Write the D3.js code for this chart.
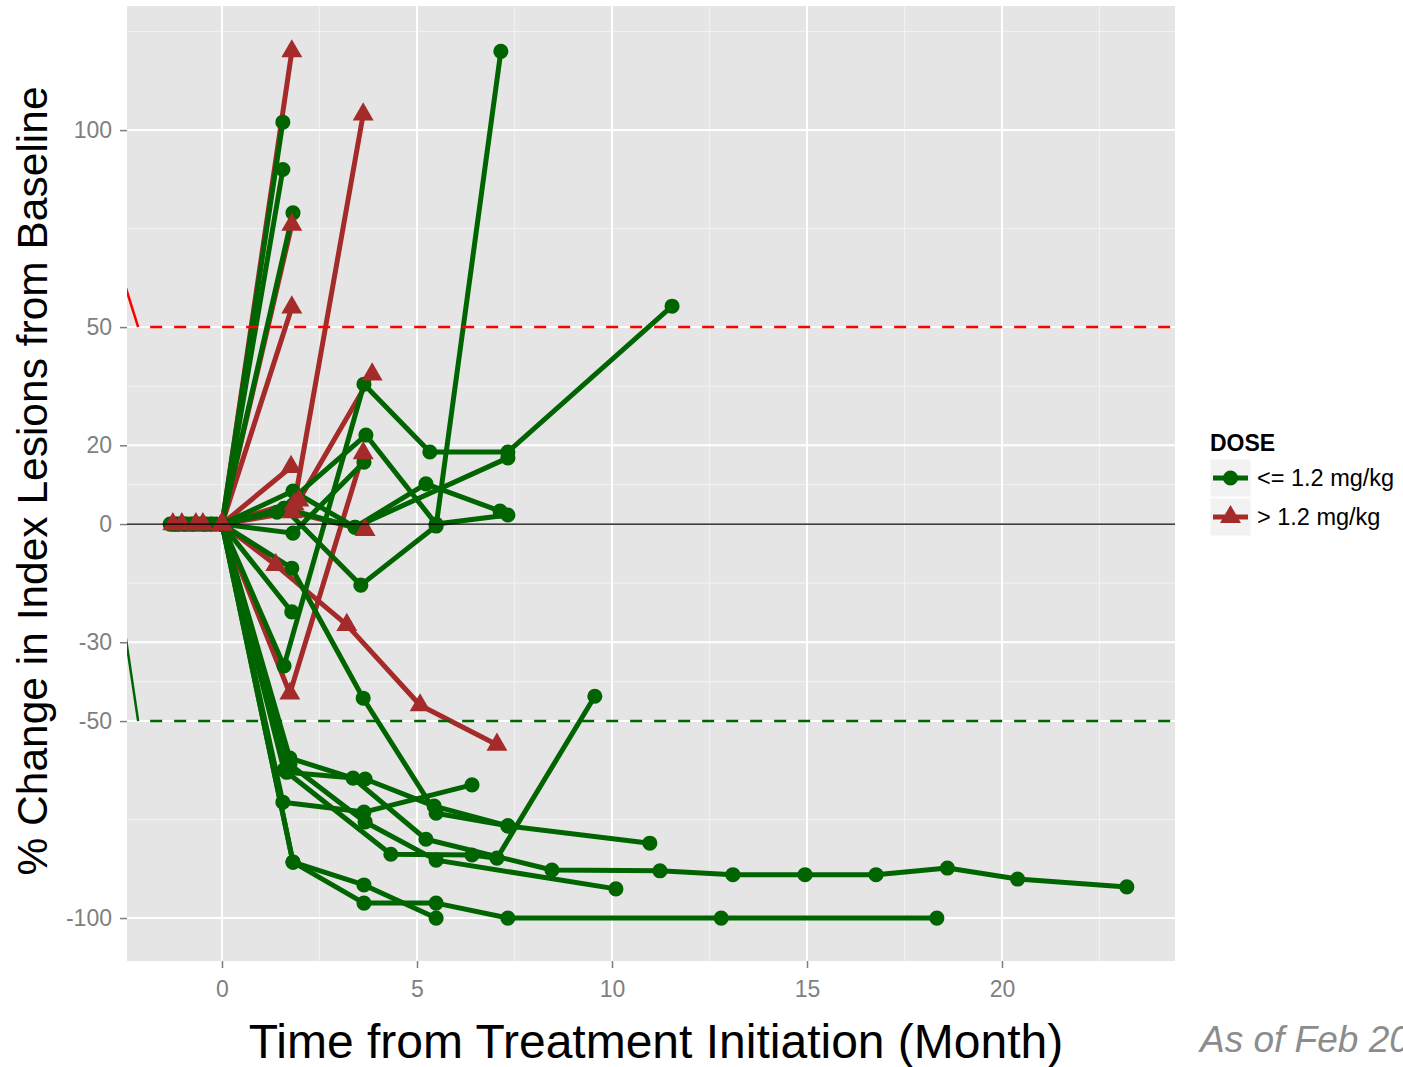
<!DOCTYPE html>
<html>
<head>
<meta charset="utf-8">
<script src="https://cdn.jsdelivr.net/npm/d3@7"></script>
<style>
  body { margin: 0; background: #fff; }
  text { font-family: "Liberation Sans", Arial, sans-serif; }
</style>
</head>
<body>
<div id="chart"></div>
<script>
// Patient tracks: [month, % change] pairs, one array per patient
const lowDose = [
  [[-1.33, 0], [0, 0], [1.56, 102]],
  [[-1.2, 0], [0, 0], [1.56, 90]],
  [[-1.1, 0], [0, 0], [1.82, 79]],
  [[-1.0, 0], [0, 0], [1.6, 4], [3.56, -15.5], [5.49, -0.5], [7.15, 120]],
  [[-0.9, 0], [0, 0], [1.59, -36], [3.64, 35.5], [5.33, 18.3], [7.33, 18.3], [11.54, 55.3]],
  [[-0.8, 0], [0, 0], [1.41, 3], [3.69, 22.6], [5.49, 0], [7.33, 2.3]],
  [[-0.7, 0], [0, 0], [1.82, -2.3], [3.64, 15.7]],
  [[-0.6, 0], [0, 0], [1.82, 8.4], [3.41, -0.8], [5.23, 10.2], [7.13, 3.3]],
  [[-0.5, 0], [0, 0], [1.59, 4], [3.41, -0.8], [7.33, 16.8]],
  [[-0.4, 0], [0, 0], [1.79, -11.2], [3.62, -44.2], [5.49, -73.4], [7.33, -76.6], [10.97, -81]],
  [[-0.3, 0], [0, 0], [1.79, -22.3]],
  [[-1.25, 0], [0, 0], [1.74, -59.4], [3.36, -64.5], [5.23, -80], [8.46, -87.8], [11.23, -88],
    [13.1, -89], [14.95, -89], [16.77, -89], [18.6, -87.3], [20.4, -90.1], [23.2, -92.1]],
  [[-0.95, 0], [0, 0], [1.56, -70.6], [3.64, -73.1], [6.41, -66.2]],
  [[-0.75, 0], [0, 0], [1.74, -61], [3.67, -75.6], [5.49, -85.3], [10.1, -92.6]],
  [[-0.45, 0], [0, 0], [1.59, -62.4], [4.33, -83.8], [6.41, -84], [7.05, -84.8], [9.56, -43.7]],
  [[-0.25, 0], [0, 0], [1.82, -85.8], [3.64, -91.6], [5.49, -100]],
  [[-0.15, 0], [0, 0], [1.82, -85.8], [3.64, -96.2], [5.49, -96.2], [7.33, -100], [12.8, -100], [18.33, -100]],
  [[-1.15, 0], [0, 0], [1.66, -63], [3.67, -64.7], [5.44, -71.6], [7.33, -76.6]]
];

const highDose = [
  [[-1.26, 0], [0, 0], [1.79, 120]],
  [[-1.03, 0], [0, 0], [1.85, 5], [3.62, 104]],
  [[-0.67, 0], [0, 0], [1.79, 76]],
  [[-0.49, 0], [0, 0], [1.79, 55]],
  [[0, 0], [1.77, 14.5]],
  [[0, 0], [1.97, 6], [3.85, 38]],
  [[0, 0], [1.8, 3], [3.67, -1.5]],
  [[0, 0], [1.38, -10.4], [3.2, -25.6], [5.08, -46], [7.05, -56]],
  [[0, 0], [1.74, -43], [3.62, 18]]
];

// response thresholds (PD +50%, PR -50%), each with a short leader from the left
const progressionLine = [[-2.6, 64.2], [-2.15, 50], [24.5, 50]];
const responseLine = [[-2.6, -20], [-2.15, -50], [24.5, -50]];

const xTicks = [0, 5, 10, 15, 20];
const xMinor = [-2.5, 2.5, 7.5, 12.5, 17.5, 22.5];
const yTicks = [100, 50, 20, 0, -30, -50, -100];
const yMinor = [125, 75, 35, 10, -15, -40, -75];

const doseLabels = ["<= 1.2 mg/kg", "> 1.2 mg/kg"];
const doseColors = ["#006400", "#A52A2A"];

// Define "SVG"
const svgWidth = 1403;
const svgHeight = 1067;

const margin = { top: 6, right: 228, bottom: 106, left: 127 };
const chartWidth = svgWidth - margin.left - margin.right;
const chartHeight = svgHeight - margin.top - margin.bottom;

const svg = d3.select("#chart")
  .append("svg")
  .attr("width", svgWidth)
  .attr("height", svgHeight);

const chartGroup = svg.append("g")
  .attr("transform", `translate(${margin.left}, ${margin.top})`);

const xScale = d3.scaleLinear()
  .domain([-2.436, 24.436])
  .range([0, chartWidth]);

const yScale = d3.scaleLinear()
  .domain([-110.9, 131.5])
  .range([chartHeight, 0]);

// panel background + grid
chartGroup.append("rect")
  .attr("width", chartWidth)
  .attr("height", chartHeight)
  .attr("fill", "#e5e5e5");

chartGroup.selectAll(".xminor")
  .data(xMinor.filter(d => xScale(d) >= 0))
  .enter().append("line")
  .attr("x1", d => xScale(d)).attr("x2", d => xScale(d))
  .attr("y1", 0).attr("y2", chartHeight)
  .attr("stroke", "#f2f2f2").attr("stroke-width", 1);

chartGroup.selectAll(".yminor")
  .data(yMinor)
  .enter().append("line")
  .attr("x1", 0).attr("x2", chartWidth)
  .attr("y1", d => yScale(d)).attr("y2", d => yScale(d))
  .attr("stroke", "#f2f2f2").attr("stroke-width", 1);

chartGroup.selectAll(".xmajor")
  .data(xTicks)
  .enter().append("line")
  .attr("x1", d => xScale(d)).attr("x2", d => xScale(d))
  .attr("y1", 0).attr("y2", chartHeight)
  .attr("stroke", "#fff").attr("stroke-width", 2);

chartGroup.selectAll(".ymajor")
  .data(yTicks)
  .enter().append("line")
  .attr("x1", 0).attr("x2", chartWidth)
  .attr("y1", d => yScale(d)).attr("y2", d => yScale(d))
  .attr("stroke", "#fff").attr("stroke-width", 2);

// clip everything drawn inside the panel
svg.append("defs").append("clipPath")
  .attr("id", "panel")
  .append("rect")
  .attr("width", chartWidth)
  .attr("height", chartHeight);

const plotArea = chartGroup.append("g").attr("clip-path", "url(#panel)");

const line = d3.line()
  .x(d => xScale(d[0]))
  .y(d => yScale(d[1]));

const groups = [
  { tracks: highDose, color: doseColors[1] },
  { tracks: lowDose, color: doseColors[0] }
];

// lines: high dose underneath, low dose on top
groups.forEach(g => {
  plotArea.selectAll(null)
    .data(g.tracks)
    .enter().append("path")
    .attr("d", line)
    .attr("fill", "none")
    .attr("stroke", g.color)
    .attr("stroke-width", 5)
    .attr("stroke-linejoin", "round");
});

const circleSym = d3.symbol(d3.symbolCircle, 180);
const triSym = d3.symbol(d3.symbolTriangle, 190);

plotArea.selectAll(null)
  .data(lowDose.flat())
  .enter().append("path")
  .attr("d", circleSym)
  .attr("transform", d => `translate(${xScale(d[0])},${yScale(d[1])})`)
  .attr("fill", doseColors[0]);

plotArea.selectAll(null)
  .data(highDose.flat())
  .enter().append("path")
  .attr("d", triSym)
  .attr("transform", d => `translate(${xScale(d[0])},${yScale(d[1])})`)
  .attr("fill", doseColors[1]);

// zero line
plotArea.append("line")
  .attr("x1", 0).attr("x2", chartWidth)
  .attr("y1", yScale(0)).attr("y2", yScale(0))
  .attr("stroke", "#000").attr("stroke-width", 1.2);

// threshold lines: solid leader then dashed level
[[progressionLine, "#FF0000"], [responseLine, "#006400"]].forEach(([pts, col]) => {
  plotArea.append("path")
    .attr("d", line(pts.slice(0, 2)))
    .attr("fill", "none").attr("stroke", col).attr("stroke-width", 2.5);
  plotArea.append("path")
    .attr("d", line(pts.slice(1)))
    .attr("fill", "none").attr("stroke", col).attr("stroke-width", 2.5)
    .attr("stroke-dasharray", "12,12")
    .attr("stroke-dashoffset", 12);
});

// axes (plain hyphen for negatives, as in the original)
const bottomAxis = d3.axisBottom(xScale).tickValues(xTicks).tickSize(7).tickPadding(13)
  .tickFormat(d => String(d));
const leftAxis = d3.axisLeft(yScale).tickValues(yTicks).tickSize(7).tickPadding(8)
  .tickFormat(d => String(d));

const xAxisG = chartGroup.append("g")
  .attr("transform", `translate(0, ${chartHeight})`)
  .call(bottomAxis);

const yAxisG = chartGroup.append("g")
  .call(leftAxis);

[xAxisG, yAxisG].forEach(a => {
  a.select(".domain").remove();
  a.selectAll(".tick line").attr("stroke", "#7f7f7f").attr("stroke-width", 1.5);
  a.selectAll(".tick text")
    .attr("fill", "#7f7f7f")
    .style("font-size", "23px")
    .style("font-family", "'Liberation Sans', Arial, sans-serif");
});

// axis titles
svg.append("text")
  .attr("x", 656)
  .attr("y", 1058)
  .attr("text-anchor", "middle")
  .style("font-size", "48px")
  .text("Time from Treatment Initiation (Month)");

svg.append("text")
  .attr("transform", "translate(47, 481) rotate(-90)")
  .attr("text-anchor", "middle")
  .style("font-size", "42.5px")
  .text("% Change in Index Lesions from Baseline");

svg.append("text")
  .attr("x", 1200)
  .attr("y", 1052)
  .attr("fill", "#8c8c8c")
  .style("font-size", "37px")
  .style("font-style", "italic")
  .text("As of Feb 2014");

// legend
const legend = svg.append("g").attr("transform", "translate(1210, 0)");

legend.append("text")
  .attr("x", 0)
  .attr("y", 451)
  .style("font-size", "23px")
  .style("font-weight", "bold")
  .text("DOSE");

const keys = legend.selectAll(".key")
  .data(doseLabels)
  .enter().append("g")
  .attr("transform", (d, i) => `translate(0, ${459 + i * 39})`);

keys.append("rect")
  .attr("width", 41).attr("height", 38)
  .attr("fill", "#f2f2f2")
  .attr("stroke", "#fff").attr("stroke-width", 1);

keys.append("line")
  .attr("x1", 3).attr("x2", 38)
  .attr("y1", 19).attr("y2", 19)
  .attr("stroke", (d, i) => doseColors[i])
  .attr("stroke-width", 5);

keys.append("path")
  .attr("d", (d, i) => (i === 0 ? circleSym : triSym)())
  .attr("transform", "translate(20.5, 19)")
  .attr("fill", (d, i) => doseColors[i]);

keys.append("text")
  .attr("x", 47)
  .attr("y", 19)
  .attr("dy", "0.36em")
  .style("font-size", "23.5px")
  .text(d => d);
</script>
</body>
</html>
